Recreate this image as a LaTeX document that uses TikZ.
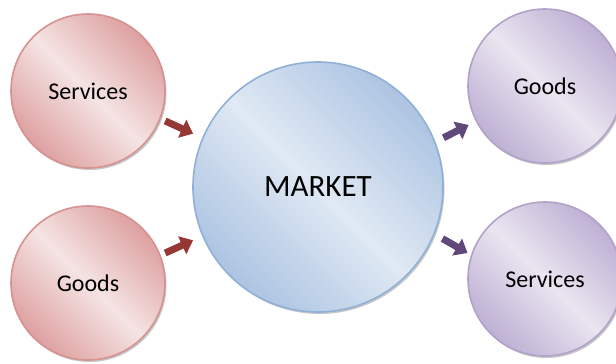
\documentclass[tikz,border=0pt]{standalone}
\usepackage{fontspec}
\setmainfont{Carlito}
\usetikzlibrary{arrows.meta,shadows}

\definecolor{pinklight}{RGB}{245,228,228}
\definecolor{pinkdark}{RGB}{222,160,160}
\definecolor{pinkline}{RGB}{214,145,145}
\definecolor{bluelight}{RGB}{224,233,244}
\definecolor{bluedark}{RGB}{172,196,226}
\definecolor{blueline}{RGB}{145,176,214}
\definecolor{purplelight}{RGB}{234,229,240}
\definecolor{purpledark}{RGB}{190,176,212}
\definecolor{purpleline}{RGB}{178,162,200}
\definecolor{arrowred}{RGB}{149,55,52}
\definecolor{arrowpurple}{RGB}{96,73,122}

\tikzset{
  bubble/.style={circle, inner sep=0pt, line width=1.6pt, text=black,
    drop shadow={shadow xshift=1.5pt, shadow yshift=-2pt, opacity=0.4, fill=black!55}},
  pinkbubble/.style={bubble, draw=pinkline, minimum size=154pt,
    top color=pinkdark, bottom color=pinkdark, middle color=pinklight, shading angle=-45,
    font=\fontsize{24}{28}\selectfont},
  bluebubble/.style={bubble, draw=blueline, minimum size=250pt,
    top color=bluedark, bottom color=bluedark, middle color=bluelight, shading angle=-45,
    font=\fontsize{31}{36}\selectfont},
  purplebubble/.style={bubble, draw=purpleline, minimum size=154pt,
    top color=purpledark, bottom color=purpledark, middle color=purplelight, shading angle=-45,
    font=\fontsize{24}{28}\selectfont},
  flow/.style={line width=7pt, -{Triangle[width=19pt,length=12pt]}},
  inflow/.style={flow, draw=arrowred, fill=arrowred},
  outflow/.style={flow, draw=arrowpurple, fill=arrowpurple}
}

\begin{document}
\begin{tikzpicture}[x=1pt, y=-1pt]
  \useasboundingbox (0,0) rectangle (616,364);

  % sources on the left
  \node[pinkbubble] (svcL) at (88,91) {Services};
  \node[pinkbubble] (goodsL) at (88,283) {Goods};

  % the market in the middle
  \node[bluebubble] (market) at (318,187) {MARKET};

  % outputs on the right
  \node[purplebubble] (goodsR) at (545,86) {Goods};
  \node[purplebubble] (svcR) at (545,279) {Services};

  % flows into the market
  \draw[inflow, shorten <=5pt, shorten >=10pt] (svcL.-21) -- (market.157);
  \draw[inflow, shorten <=5pt, shorten >=10pt] (goodsL.21) -- (market.203);

  % flows out of the market
  \draw[outflow, shorten <=9pt, shorten >=8pt] (market.21) -- (goodsR.207);
  \draw[outflow, shorten <=9pt, shorten >=4pt] (market.-22) -- (svcR.162);
\end{tikzpicture}
\end{document}
